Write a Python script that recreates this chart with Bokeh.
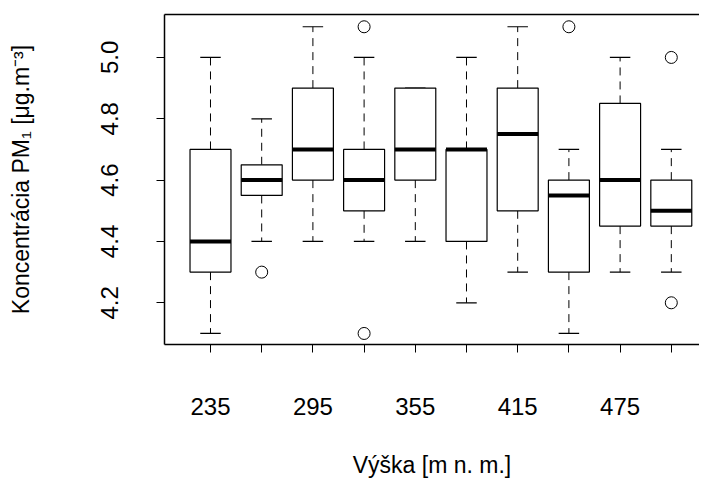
from bokeh.plotting import figure
from bokeh.models import Range1d, FixedTicker, ColumnDataSource, LinearAxis
from bokeh.embed import file_html
from bokeh.resources import INLINE

# ---- data ----
altitudes = ["235", "265", "295", "325", "355", "385", "415", "445", "475", "505"]
shown_labels = ["235", "", "295", "", "355", "", "415", "", "475", ""]
whisker_low = [4.1, 4.4, 4.4, 4.4, 4.4, 4.2, 4.3, 4.1, 4.3, 4.3]
q1 = [4.3, 4.55, 4.6, 4.5, 4.6, 4.4, 4.5, 4.3, 4.45, 4.45]
median = [4.4, 4.6, 4.7, 4.6, 4.7, 4.7, 4.75, 4.55, 4.6, 4.5]
q3 = [4.7, 4.65, 4.9, 4.7, 4.9, 4.7, 4.9, 4.6, 4.85, 4.6]
whisker_high = [5.0, 4.8, 5.1, 5.0, 4.9, 5.0, 5.1, 4.7, 5.0, 4.7]
outlier_group = [2, 4, 4, 8, 10, 10]
outlier_value = [4.3, 5.1, 4.1, 5.1, 5.0, 4.2]
y_ticks = [4.2, 4.4, 4.6, 4.8, 5.0]
y_tick_labels = ["4.2", "4.4", "4.6", "4.8", "5.0"]

FONT = "Liberation Sans"
FS_TICK = "24px"
FS_TITLE = "23px"
box_w = 0.8
staple_w = 0.4
FRAME_W = 1.5

pos = list(range(1, len(altitudes) + 1))
src = ColumnDataSource(dict(
    x=pos,
    left=[p - box_w / 2 for p in pos],
    right=[p + box_w / 2 for p in pos],
    sl=[p - staple_w / 2 for p in pos],
    sr=[p + staple_w / 2 for p in pos],
    lo=whisker_low, q1=q1, med=median, q3=q3, hi=whisker_high,
))

W, H = 699, 489
BL, BT, FH = 164, 14, 330
p = figure(width=W, height=H, output_backend="svg", toolbar_location=None,
           x_range=Range1d(0.1016, 0.1016 + (W - BL) / 51.2),
           y_range=Range1d(4.064, 5.14),
           min_border_left=BL, min_border_right=0, min_border_top=BT,
           min_border_bottom=H - BT - FH)
p.grid.visible = False
p.outline_line_color = None
p.background_fill_color = "white"
p.border_fill_color = "white"

# whiskers (dashed)
p.segment(x0="x", y0="q3", x1="x", y1="hi", source=src, line_color="black",
          line_width=1, line_dash="8 6")
p.segment(x0="x", y0="q1", x1="x", y1="lo", source=src, line_color="black",
          line_width=1, line_dash="8 6")
# staples
p.segment(x0="sl", y0="hi", x1="sr", y1="hi", source=src, line_color="black", line_width=1.2)
p.segment(x0="sl", y0="lo", x1="sr", y1="lo", source=src, line_color="black", line_width=1.2)
# boxes
p.quad(left="left", right="right", bottom="q1", top="q3", source=src,
       fill_color="white", line_color="black", line_width=1.2)
# medians
p.segment(x0="left", y0="med", x1="right", y1="med", source=src, line_color="black",
          line_width=4, line_cap="butt")
# outliers
p.scatter(x=outlier_group, y=outlier_value, marker="circle", size=12,
          fill_color=None, line_color="black", line_width=1)

# x axis
xa = p.xaxis[0]
xa.ticker = FixedTicker(ticks=pos)
xa.major_label_overrides = {pp: lab for pp, lab in zip(pos, shown_labels)}
xa.axis_line_color = "black"
xa.axis_line_width = FRAME_W
xa.major_tick_out = 8
xa.major_tick_in = 0
xa.minor_tick_out = 0
xa.minor_tick_in = 0
xa.major_tick_line_color = "black"
xa.major_label_standoff = 45
xa.major_label_text_font = FONT
xa.major_label_text_font_size = FS_TICK
xa.major_label_text_color = "black"
xa.axis_label = "Výška [m n. m.]"
xa.axis_label_text_font = FONT
xa.axis_label_text_font_size = FS_TITLE
xa.axis_label_text_font_style = "normal"
xa.axis_label_text_color = "black"
xa.axis_label_standoff = 34

# y axis
ya = p.yaxis[0]
ya.ticker = FixedTicker(ticks=y_ticks)
ya.major_label_overrides = {t: lab for t, lab in zip(y_ticks, y_tick_labels)}
ya.axis_line_color = "black"
ya.axis_line_width = FRAME_W
ya.major_tick_out = 8
ya.major_tick_in = 0
ya.minor_tick_out = 0
ya.minor_tick_in = 0
ya.major_label_orientation = "vertical"
ya.major_label_standoff = 38
ya.major_label_text_font = FONT
ya.major_label_text_font_size = FS_TICK
ya.major_label_text_line_height = 1.0
ya.major_label_text_color = "black"
ya.axis_label = "Koncentrácia PM₁ [μg.m⁻³]"
ya.axis_label_text_font = FONT
ya.axis_label_text_font_size = FS_TITLE
ya.axis_label_text_line_height = 1.0
ya.axis_label_text_font_style = "normal"
ya.axis_label_text_color = "black"
ya.axis_label_standoff = 65

# top border of the plotting box (R's box(); right side lies beyond the view)
top = LinearAxis(ticker=FixedTicker(ticks=[]), axis_line_color="black",
                 axis_line_width=FRAME_W, major_tick_out=0, major_tick_in=0,
                 minor_tick_out=0, minor_tick_in=0,
                 major_label_text_font_size="0px")
p.add_layout(top, "above")

open("out.html", "w").write(file_html(p, INLINE))
